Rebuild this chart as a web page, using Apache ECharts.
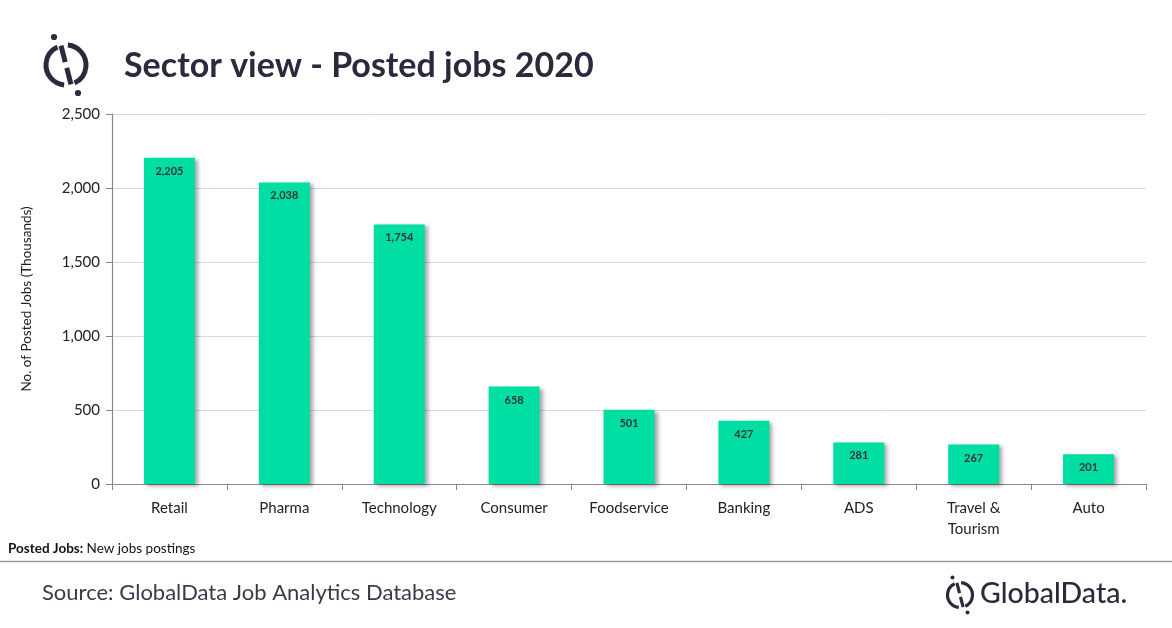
<!DOCTYPE html>
<html>
<head>
<meta charset="utf-8">
<script src="https://cdn.jsdelivr.net/npm/echarts@6/dist/echarts.min.js"></script>
<style>
  html, body { margin: 0; padding: 0; background: #fff; }
  #m1 { width: 1172px; height: 628px; }
</style>
</head>
<body>
<div id="m1"></div>
<script>
var sectors = ['Retail', 'Pharma', 'Technology', 'Consumer', 'Foodservice', 'Banking', 'ADS', 'Travel &\nTourism', 'Auto'];
var postedJobs = [2205, 2038, 1754, 658, 501, 427, 281, 267, 201];
var yTicks = [0, 500, 1000, 1500, 2000, 2500];

var FONT = 'Lato, "Open Sans", sans-serif';
var INK = '#2b2a3d';

function fmt(v) {
    return String(v).replace(/\B(?=(\d{3})+(?!\d))/g, ',');
}

// logo: broken ring with slash and two dots
function logo(cx, cy, r, w) {
    var s = { stroke: INK, lineWidth: w, fill: null, lineCap: 'butt' };
    var p = function (a, k) { return [cx + Math.cos(a) * r * k, cy + Math.sin(a) * r * k]; };
    var aTop = -Math.PI * 0.58, aBot = Math.PI * 0.42;
    var t0 = p(aTop, 1), t1 = p(aTop, 0.15), b0 = p(aBot, 0.15), b1 = p(aBot, 1);
    return [
        { type: 'arc', shape: { cx: cx, cy: cy, r: r, startAngle: Math.PI * 0.53, endAngle: Math.PI * 1.36, clockwise: true }, style: s },
        { type: 'arc', shape: { cx: cx, cy: cy, r: r, startAngle: -Math.PI * 0.47, endAngle: Math.PI * 0.36, clockwise: true }, style: s },
        { type: 'line', shape: { x1: t0[0], y1: t0[1], x2: t1[0], y2: t1[1] }, style: { stroke: INK, lineWidth: w } },
        { type: 'line', shape: { x1: b0[0], y1: b0[1], x2: b1[0], y2: b1[1] }, style: { stroke: INK, lineWidth: w } },
        { type: 'circle', shape: { cx: cx - r * 0.6, cy: cy - r * 1.4, r: w * 0.62 }, style: { fill: INK } },
        { type: 'circle', shape: { cx: cx + r * 0.6, cy: cy + r * 1.4, r: w * 0.62 }, style: { fill: INK } }
    ];
}

var myChart = echarts.init(document.getElementById('m1'));

var graphics = logo(66, 65, 20, 5).concat(logo(960, 595, 12.5, 3.2)).concat([
    { type: 'text', left: 124, top: 49, style: { text: 'Sector view - Posted jobs 2020', font: 'bold 34px ' + FONT, fill: INK } },
    { type: 'text', left: 8, top: 542, style: { rich: { b: { fontWeight: 'bold', fontSize: 13.5, fontFamily: FONT, fill: '#111' }, n: { fontSize: 13.5, fontFamily: FONT, fill: '#111' } }, text: '{b|Posted Jobs:} {n|New jobs postings}' } },
    { type: 'line', shape: { x1: 0, y1: 561.5, x2: 1172, y2: 561.5 }, style: { stroke: '#9a9a9a', lineWidth: 1.5 } },
    { type: 'text', left: 42, top: 582, style: { text: 'Source: GlobalData Job Analytics Database', font: '22px ' + FONT, fill: '#3a3a4a' } },
    { type: 'text', left: 980, top: 579, style: { text: 'GlobalData.', font: '500 28.5px ' + FONT, fill: INK } }
]);

var option = {
    animation: false,
    grid: { left: 112, right: 26, top: 114, bottom: 144, containLabel: false },
    xAxis: {
        type: 'category',
        data: sectors,
        axisLine: { lineStyle: { color: '#888', width: 1.2 } },
        axisTick: { show: true, alignWithLabel: false, length: 6, lineStyle: { color: '#888' } },
        axisLabel: { color: '#222', fontSize: 15, fontFamily: FONT, margin: 14, lineHeight: 21, interval: 0 }
    },
    yAxis: {
        type: 'value',
        min: yTicks[0],
        max: yTicks[yTicks.length - 1],
        interval: 500,
        name: 'No. of Posted Jobs (Thousands)',
        nameLocation: 'middle',
        nameGap: 78,
        nameTextStyle: { color: '#222', fontSize: 13.5, fontFamily: FONT },
        axisLine: { show: true, lineStyle: { color: '#888', width: 1.2 } },
        axisTick: { show: true, length: 6, lineStyle: { color: '#888' } },
        axisLabel: { color: '#222', fontSize: 15, fontFamily: FONT, margin: 12, formatter: fmt },
        splitLine: { lineStyle: { color: '#d9d9d9', width: 1 } }
    },
    series: [{
        type: 'bar',
        data: postedJobs,
        barWidth: 51,
        itemStyle: {
            color: '#00dea4',
            shadowColor: 'rgba(0,0,0,0.35)',
            shadowBlur: 4,
            shadowOffsetX: 3,
            shadowOffsetY: 2
        },
        label: {
            show: true,
            position: 'insideTop',
            distance: 8,
            color: '#333',
            fontSize: 11,
            fontWeight: 'bold',
            fontFamily: FONT,
            formatter: function (p) { return fmt(p.value); }
        }
    }],
    graphic: graphics
};

myChart.setOption(option);
</script>
</body>
</html>
